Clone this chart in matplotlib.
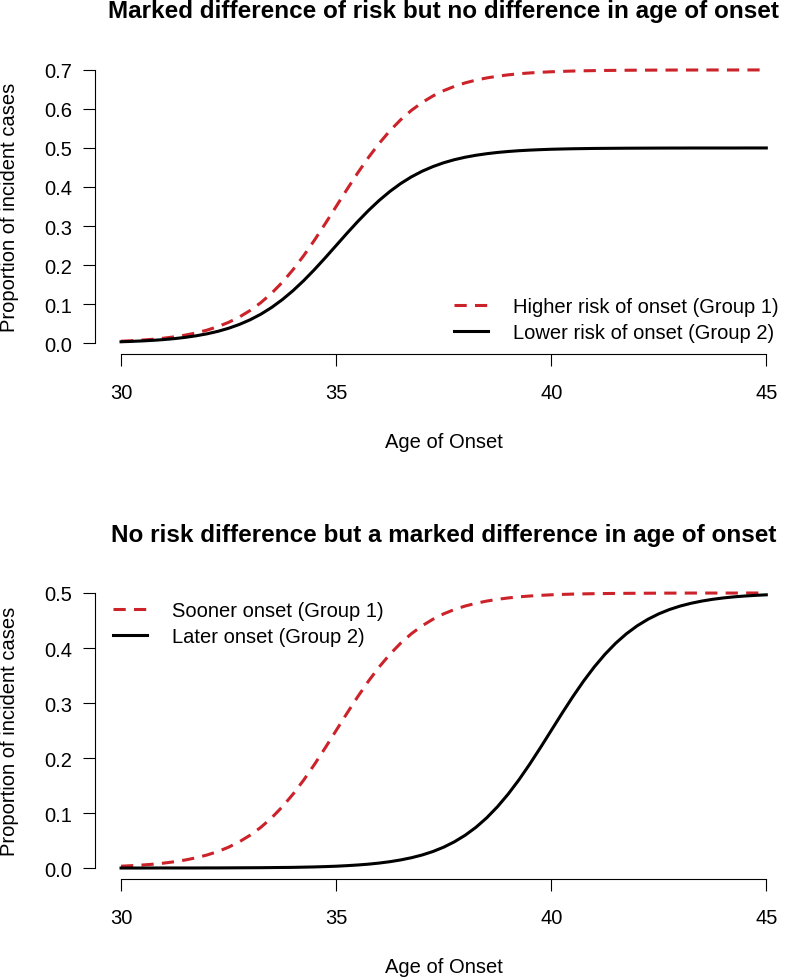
import matplotlib
matplotlib.use("Agg")
import matplotlib.pyplot as plt

plt.rcParams['font.family'] = ['Liberation Sans', 'DejaVu Sans']

age = [30 + 0.25 * i for i in range(61)]

# panel 1: higher vs lower risk, same age of onset
higher_risk = [0.0047, 0.0060, 0.0077, 0.0098, 0.0126, 0.0161, 0.0205, 0.0261,
               0.0332, 0.0421, 0.0531, 0.0667, 0.0834, 0.1036, 0.1277, 0.1559,
               0.1883, 0.2246, 0.2643, 0.3065, 0.3500, 0.3935, 0.4357, 0.4754,
               0.5117, 0.5441, 0.5723, 0.5964, 0.6166, 0.6333, 0.6469, 0.6579,
               0.6668, 0.6739, 0.6795, 0.6839, 0.6874, 0.6902, 0.6923, 0.6940,
               0.6953, 0.6963, 0.6972, 0.6978, 0.6983, 0.6987, 0.6989, 0.6992,
               0.6994, 0.6995, 0.6996, 0.6997, 0.6998, 0.6998, 0.6999, 0.6999,
               0.6999, 0.6999, 0.7000, 0.7000, 0.7000]
lower_risk = [0.0033, 0.0043, 0.0055, 0.0070, 0.0090, 0.0115, 0.0147, 0.0187,
              0.0237, 0.0300, 0.0379, 0.0477, 0.0596, 0.0740, 0.0912, 0.1114,
              0.1345, 0.1604, 0.1888, 0.2189, 0.2500, 0.2811, 0.3112, 0.3396,
              0.3655, 0.3886, 0.4088, 0.4260, 0.4404, 0.4523, 0.4621, 0.4700,
              0.4763, 0.4813, 0.4853, 0.4885, 0.4910, 0.4930, 0.4945, 0.4957,
              0.4967, 0.4974, 0.4980, 0.4984, 0.4988, 0.4990, 0.4992, 0.4994,
              0.4995, 0.4996, 0.4997, 0.4998, 0.4998, 0.4999, 0.4999, 0.4999,
              0.4999, 0.4999, 0.5000, 0.5000, 0.5000]

# panel 2: same risk, sooner vs later onset
sooner_onset = lower_risk
later_onset = [0.0000, 0.0000, 0.0000, 0.0001, 0.0001, 0.0001, 0.0001, 0.0001,
               0.0002, 0.0002, 0.0003, 0.0004, 0.0005, 0.0006, 0.0008, 0.0010,
               0.0012, 0.0016, 0.0020, 0.0026, 0.0033, 0.0043, 0.0055, 0.0070,
               0.0090, 0.0115, 0.0147, 0.0187, 0.0237, 0.0300, 0.0379, 0.0477,
               0.0596, 0.0740, 0.0912, 0.1114, 0.1345, 0.1604, 0.1888, 0.2189,
               0.2500, 0.2811, 0.3112, 0.3396, 0.3655, 0.3886, 0.4088, 0.4260,
               0.4404, 0.4523, 0.4621, 0.4700, 0.4763, 0.4813, 0.4853, 0.4885,
               0.4910, 0.4930, 0.4945, 0.4957, 0.4967]

x_ticks = [30, 35, 40, 45]
top_yticks = [0.0, 0.1, 0.2, 0.3, 0.4, 0.5, 0.6, 0.7]
bot_yticks = [0.0, 0.1, 0.2, 0.3, 0.4, 0.5]

titles = ["Marked difference of risk but no difference in age of onset",
          "No risk difference but a marked difference in age of onset"]
labels_top = ["Higher risk of onset (Group 1)", "Lower risk of onset (Group 2)"]
labels_bot = ["Sooner onset (Group 1)", "Later onset (Group 2)"]

RED = '#CC2229'
FS = 14.5

fig = plt.figure(figsize=(7.87, 9.79), dpi=100)
ax1 = fig.add_axes([0.121, 0.6374, 0.8855, 0.3013])
ax2 = fig.add_axes([0.121, 0.1011, 0.8855, 0.3034])


def r_style(ax, yticks, ymax):
    # base-R look: no box, axis lines only over the tick range
    ax.set_xlim(29.4, 45.6)
    ax.set_ylim(-0.04 * ymax, ymax * 1.04)
    for s in ['top', 'right']:
        ax.spines[s].set_visible(False)
    ax.spines['left'].set_bounds(0, ymax)
    ax.spines['bottom'].set_bounds(30, 45)
    for s in ['left', 'bottom']:
        ax.spines[s].set_linewidth(0.8)
    ax.set_xticks(x_ticks)
    ax.set_yticks(yticks)
    ax.set_yticklabels([f"{v:.1f}" for v in yticks])
    ax.tick_params(axis='both', length=8.6, width=0.8, labelsize=FS)
    ax.tick_params(axis='x', pad=12)
    ax.tick_params(axis='y', pad=8)
    ax.set_xlabel("Age of Onset", fontsize=FS)
    ax.set_ylabel("Proportion of incident cases", fontsize=FS)
    ax.yaxis.set_label_coords(-0.109, 0.5)


# top panel
l1, = ax1.plot(age, higher_risk, color=RED, lw=2.2, label=labels_top[0])
l1.set_dashes((4, 2.7))
ax1.plot(age, lower_risk, color='black', lw=2.2, label=labels_top[1])
r_style(ax1, top_yticks, 0.7)
ax1.xaxis.set_label_coords(0.5, -0.264)
ax1.legend(loc='upper right', bbox_to_anchor=(0.980, 0.193), frameon=False,
           fontsize=FS, borderpad=0, borderaxespad=0, handlelength=1.7,
           handletextpad=1.2, labelspacing=0.36)

# bottom panel
l2, = ax2.plot(age, sooner_onset, color=RED, lw=2.2, label=labels_bot[0])
l2.set_dashes((4, 2.7))
ax2.plot(age, later_onset, color='black', lw=2.2, label=labels_bot[1])
r_style(ax2, bot_yticks, 0.5)
ax2.xaxis.set_label_coords(0.5, -0.263)
ax2.legend(loc='upper left', bbox_to_anchor=(0.0258, 0.936), frameon=False,
           fontsize=FS, borderpad=0, borderaxespad=0, handlelength=1.7,
           handletextpad=1.2, labelspacing=0.36)

fig.text(0.5636, 1 - 18 / 979, titles[0], ha='center', va='baseline',
         fontsize=17.5, fontweight='bold')
fig.text(0.5636, 1 - 542 / 979, titles[1], ha='center', va='baseline',
         fontsize=17.5, fontweight='bold')

fig.savefig("out.png", dpi=100)
